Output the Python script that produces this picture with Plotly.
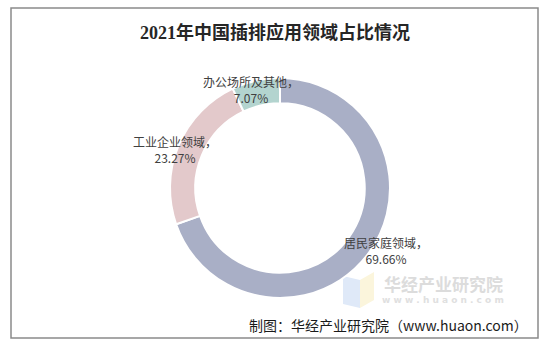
import plotly.graph_objects as go

# Application shares of power strips in China, 2021 (%)
sectors = ["居民家庭领域", "工业企业领域", "办公场所及其他"]
shares = [69.66, 23.27, 7.07]
colors = ["#a9afc6", "#e3c9cb", "#b3d4cf"]

title_text = "2021年中国插排应用领域占比情况"
source_text = "制图：华经产业研究院（www.huaon.com）"

W, H = 544, 345


def px(x):
    return x / W


def py(y):
    return 1 - y / H


fig = go.Figure()
fig.add_trace(go.Pie(
    labels=sectors,
    values=shares,
    hole=0.77,
    sort=False,
    direction="clockwise",
    rotation=0,
    marker=dict(colors=colors, line=dict(color="#ffffff", width=2)),
    textinfo="none",
    hoverinfo="label+percent",
    showlegend=False,
    domain=dict(x=[px(170), px(390)], y=[py(298), py(78)]),
))

# Category labels placed beside each ring segment
label_pos = [(386, 251), (175, 149), (251, 89)]
for name, val, (lx, ly) in zip(sectors, shares, label_pos):
    fig.add_annotation(
        x=px(lx), y=py(ly), xref="paper", yref="paper",
        text=f"{name}，<br>{val:.2f}%",
        showarrow=False, xanchor="center", yanchor="middle",
        font=dict(family="Noto Sans CJK SC", size=12, color="#404040"),
    )

# Title
fig.add_annotation(
    x=px(275), y=py(32), xref="paper", yref="paper",
    text=f"<b>{title_text}</b>", showarrow=False,
    xanchor="center", yanchor="middle",
    font=dict(family="Liberation Serif, Noto Sans CJK SC", size=18, color="#262626"),
)

# Watermark text
fig.add_annotation(
    x=px(443), y=py(283), xref="paper", yref="paper",
    text="<b>华经产业研究院</b>", showarrow=False,
    xanchor="center", yanchor="middle",
    font=dict(family="Noto Sans CJK SC", size=17, color="#dcdcdc"),
)
fig.add_annotation(
    x=px(443), y=py(300), xref="paper", yref="paper",
    text="<b>w w w . h u a o n . c o m</b>", showarrow=False,
    xanchor="center", yanchor="middle",
    font=dict(family="DejaVu Sans", size=9, color="#e0e0e0"),
)

# Source note
fig.add_annotation(
    x=px(530), y=py(325), xref="paper", yref="paper",
    text=source_text, showarrow=False,
    xanchor="right", yanchor="middle",
    font=dict(family="Noto Sans CJK SC", size=14, color="#1a1a1a"),
)

shapes = [
    # outer frame
    dict(type="rect", xref="paper", yref="paper",
         x0=px(11), x1=px(538), y0=py(338), y1=py(8),
         line=dict(color="#8a8a8a", width=1.5), layer="above"),
    # watermark logo panels
    dict(type="path", xref="paper", yref="paper",
         path=f"M {px(343)},{py(276)} L {px(360)},{py(280)} L {px(360)},{py(308)} L {px(343)},{py(304)} Z",
         fillcolor="#dfe9f8", line=dict(width=0), layer="below"),
    dict(type="path", xref="paper", yref="paper",
         path=f"M {px(360)},{py(280)} L {px(374)},{py(272)} L {px(374)},{py(300)} L {px(360)},{py(308)} Z",
         fillcolor="#fbf5dc", line=dict(width=0), layer="below"),
]

fig.update_layout(
    width=W, height=H, autosize=False,
    margin=dict(l=0, r=0, t=0, b=0),
    paper_bgcolor="#ffffff", plot_bgcolor="#ffffff",
    shapes=shapes,
)

fig.write_html("out.html")
